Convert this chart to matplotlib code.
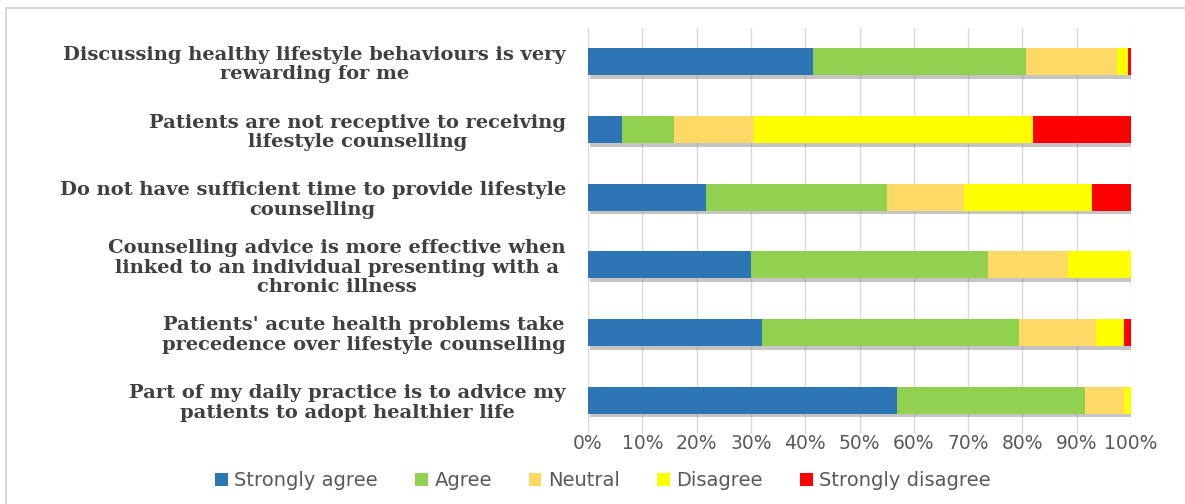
import matplotlib.pyplot as plt
import matplotlib.patheffects as pe
from matplotlib.patches import Rectangle
from matplotlib.ticker import PercentFormatter

# Survey statements (top to bottom) and response shares in percent
statements = [
    "Discussing healthy lifestyle behaviours is very\nrewarding for me",
    "Patients are not receptive to receiving\nlifestyle counselling",
    "Do not have sufficient time to provide lifestyle\ncounselling",
    "Counselling advice is more effective when\nlinked to an individual presenting with a\nchronic illness",
    "Patients' acute health problems take\nprecedence over lifestyle counselling",
    "Part of my daily practice is to advice my\npatients to adopt healthier life",
]
responses = ["Strongly agree", "Agree", "Neutral", "Disagree", "Strongly disagree"]

strongly_agree = [41.5, 6.3, 21.8, 30.0, 32.1, 56.9]
agree = [39.2, 9.5, 33.2, 43.7, 47.3, 34.6]
neutral = [16.7, 14.7, 14.2, 14.7, 14.1, 7.2]
disagree = [2.0, 51.4, 23.7, 11.6, 5.2, 1.3]
strongly_disagree = [0.6, 18.1, 7.1, 0.0, 1.3, 0.0]

colors = ["#2E75B6", "#92D050", "#FFD966", "#FFFF00", "#FF0000"]

fig = plt.figure(figsize=(11.85, 5.04), dpi=100)
fig.patch.set_facecolor("white")

# light frame around the chart area
fig.patches.append(Rectangle((6 / 1185, -0.05), 1.2, 1.05 - 7.5 / 504,
                             transform=fig.transFigure, fill=False,
                             edgecolor="#D9D9D9", linewidth=1.5))

ax = fig.add_axes([588 / 1185, 1 - 434 / 504, 543 / 1185, 406 / 504])

shadow = [pe.SimplePatchShadow(offset=(1.5, -2.5), shadow_rgbFace="#808080", alpha=0.45), pe.Normal()]

series = [strongly_agree, agree, neutral, disagree, strongly_disagree]
y = range(len(statements))
left = [0.0] * len(statements)
for name, vals, col in zip(responses, series, colors):
    bars = ax.barh(y, vals, left=left, height=0.4, color=col, label=name, zorder=3)
    for b in bars:
        b.set_path_effects(shadow)
    left = [l + v for l, v in zip(left, vals)]

ax.set_xlim(0, 100)
ax.set_ylim(len(statements) - 0.5, -0.5)
ax.set_xticks(range(0, 101, 10))
ax.xaxis.set_major_formatter(PercentFormatter(decimals=0))
ax.grid(axis="x", color="#D9D9D9", linewidth=1, zorder=0)
for s in ax.spines.values():
    s.set_visible(False)
ax.tick_params(axis="x", length=0, pad=0, labelsize=13.5, labelcolor="#595959")
ax.tick_params(axis="y", length=0, pad=16)

ax.set_yticks(list(y))
ax.set_yticklabels(statements, family="DejaVu Serif", fontweight="bold",
                   fontsize=14, color="#404040", ha="right",
                   multialignment="center", linespacing=1.1)

leg = ax.legend(loc="center", bbox_to_anchor=(603 / 1185, 1 - 481 / 504),
                bbox_transform=fig.transFigure, ncol=5, frameon=False,
                handlelength=0.65, handleheight=0.65, handletextpad=0.35,
                columnspacing=1.9, prop={"size": 14}, labelcolor="#595959")
for h in leg.legend_handles:
    h.set_path_effects([])

fig.savefig("out.png", dpi=100)
